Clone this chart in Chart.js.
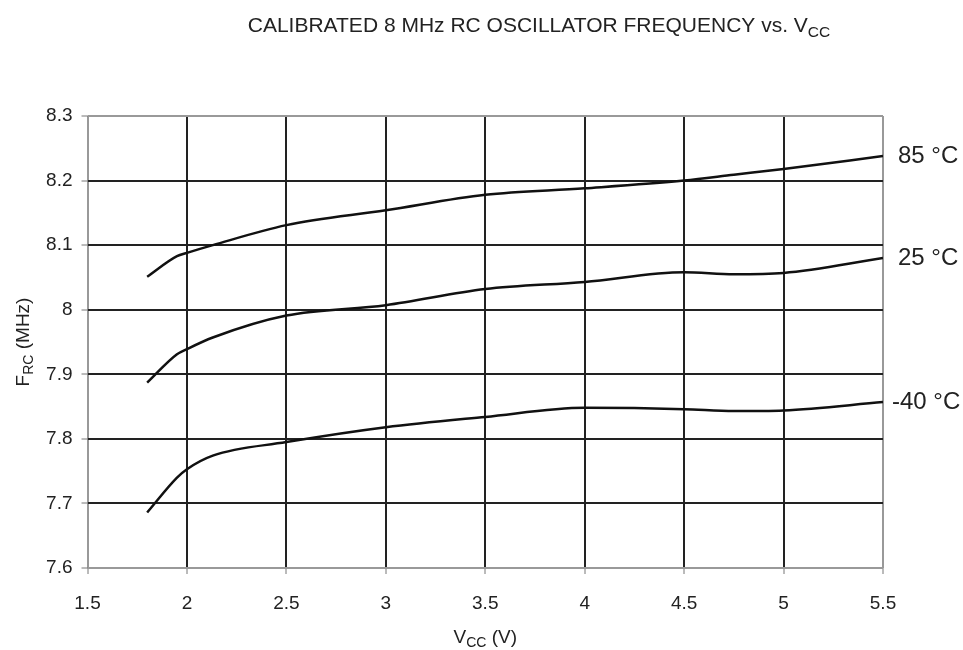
<!DOCTYPE html>
<html>
<head>
<meta charset="utf-8">
<script src="https://cdn.jsdelivr.net/npm/chart.js@4/dist/chart.umd.min.js"></script>
<style>
  html, body { margin: 0; padding: 0; background: #fff; }
  #wrap { width: 963px; height: 650px; }
</style>
</head>
<body>
<div id="wrap"><canvas id="oscChart" width="963" height="650"></canvas></div>
<script>
// Vcc (V) sample points
const vcc = [1.8, 1.95, 2.0, 2.13, 2.5, 3.0, 3.5, 4.0, 4.5, 4.75, 5.0, 5.5];
// F_RC (MHz) per temperature
const f85 = [8.051, 8.083, 8.088, 8.100, 8.131, 8.154, 8.178, 8.188, 8.200, 8.209, 8.218, 8.238];
const f25 = [7.887, 7.931, 7.939, 7.957, 7.991, 8.007, 8.032, 8.043, 8.058, 8.055, 8.057, 8.080];
const fm40 = [7.686, 7.740, 7.753, 7.774, 7.795, 7.818, 7.834, 7.848, 7.846, 7.843, 7.844, 7.857];
const curveLabels = ['85 °C', '25 °C', '-40 °C'];
const xTicks = [1.5, 2, 2.5, 3, 3.5, 4, 4.5, 5, 5.5];
const yTicks = [7.6, 7.7, 7.8, 7.9, 8, 8.1, 8.2, 8.3];

const FONT = '"Liberation Sans", Arial, sans-serif';

function pts(ys) {
  return vcc.map((x, i) => ({ x: x, y: ys[i] }));
}

function line(ys, label) {
  return {
    label: label,
    data: pts(ys),
    borderColor: '#111',
    borderWidth: 2.5,
    pointRadius: 0,
    cubicInterpolationMode: 'monotone',
    fill: false
  };
}

// draws text with a subscript part
function subText(ctx, parts, x, y, size, align) {
  ctx.save();
  let total = 0;
  parts.forEach(p => {
    ctx.font = (p.sub ? size * 0.74 : size) + 'px ' + FONT;
    total += ctx.measureText(p.t).width;
  });
  let cx = align === 'center' ? x - total / 2 : x;
  ctx.textAlign = 'left';
  ctx.textBaseline = 'alphabetic';
  parts.forEach(p => {
    ctx.font = (p.sub ? size * 0.74 : size) + 'px ' + FONT;
    ctx.fillText(p.t, cx, p.sub ? y + size * 0.22 : y);
    cx += ctx.measureText(p.t).width;
  });
  ctx.restore();
}

const textPlugin = {
  id: 'texts',
  afterDraw(chart) {
    const ctx = chart.ctx;
    const area = chart.chartArea;
    ctx.fillStyle = '#222';
    // title
    subText(ctx, [{ t: 'CALIBRATED 8 MHz RC OSCILLATOR FREQUENCY vs. V' }, { t: 'CC', sub: true }],
      539, 32, 21, 'center');
    // x axis title
    subText(ctx, [{ t: 'V' }, { t: 'CC', sub: true }, { t: ' (V)' }],
      (area.left + area.right) / 2, 643, 19, 'center');
    // y axis title
    ctx.save();
    ctx.translate(29, (area.top + area.bottom) / 2);
    ctx.rotate(-Math.PI / 2);
    subText(ctx, [{ t: 'F' }, { t: 'RC', sub: true }, { t: ' (MHz)' }], 0, 0, 19, 'center');
    ctx.restore();
    // curve labels at the right end of each line
    ctx.save();
    ctx.font = '24px ' + FONT;
    ctx.textBaseline = 'middle';
    ctx.textAlign = 'left';
    chart.data.datasets.forEach((ds, i) => {
      const last = ds.data[ds.data.length - 1];
      const py = chart.scales.y.getPixelForValue(last.y);
      const px = area.right + (curveLabels[i].startsWith('-') ? 9 : 15);
      ctx.fillText(curveLabels[i], px, py);
    });
    ctx.restore();
  }
};

function gridColor(c) {
  const n = c.scale.ticks.length;
  return (c.index === 0 || c.index === n - 1) ? '#999' : '#222';
}

new Chart(document.getElementById('oscChart'), {
  type: 'line',
  data: {
    datasets: [line(f85, curveLabels[0]), line(f25, curveLabels[1]), line(fm40, curveLabels[2])]
  },
  options: {
    responsive: false,
    animation: false,
    layout: { padding: { top: 116, right: 80, left: 0, bottom: 0 } },
    plugins: {
      legend: { display: false },
      title: { display: false },
      tooltip: { enabled: false }
    },
    scales: {
      x: {
        type: 'linear',
        min: 1.5,
        max: 5.5,
        afterBuildTicks: s => { s.ticks = xTicks.map(v => ({ value: v })); },
        afterFit: s => { s.height = 82; },
        border: { display: false },
        grid: { color: gridColor, lineWidth: 2, tickLength: 6, tickColor: '#777', tickWidth: 1 },
        ticks: {
          color: '#222',
          font: { family: FONT, size: 19 },
          padding: 18,
          maxRotation: 0,
          callback: v => String(v)
        }
      },
      y: {
        min: 7.6,
        max: 8.3,
        afterBuildTicks: s => { s.ticks = yTicks.map(v => ({ value: v })); },
        afterFit: s => { s.width = 87.5; },
        border: { display: false },
        grid: { color: gridColor, lineWidth: 2, tickLength: 6, tickColor: '#777', tickWidth: 1 },
        ticks: {
          color: '#222',
          font: { family: FONT, size: 19 },
          padding: 9,
          callback: v => String(v)
        }
      }
    }
  },
  plugins: [textPlugin]
});
</script>
</body>
</html>
